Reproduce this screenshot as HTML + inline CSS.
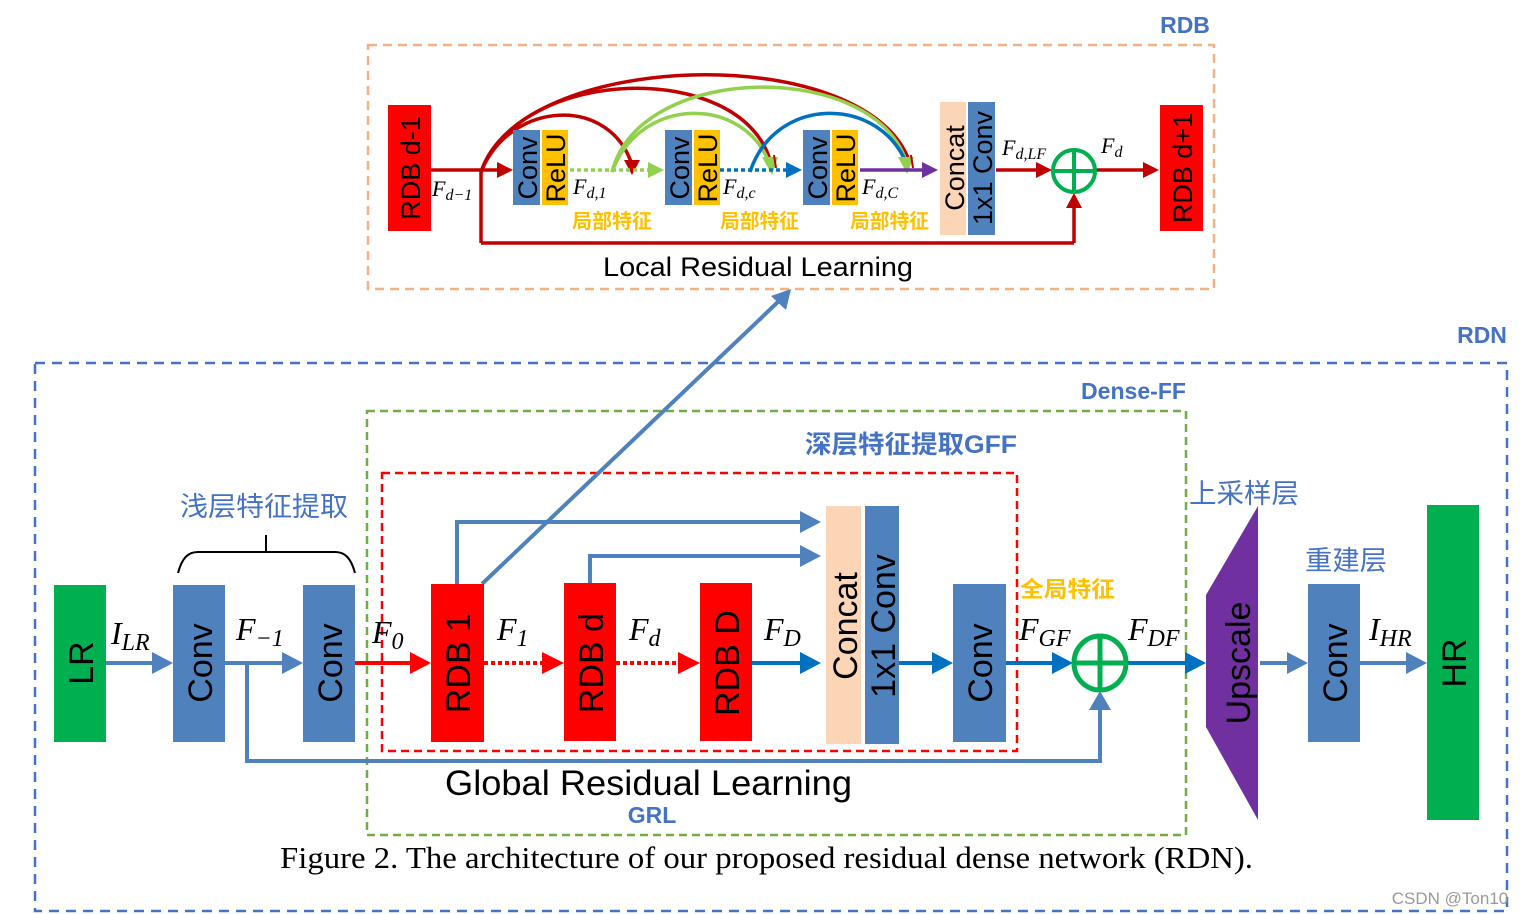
<!DOCTYPE html>
<html><head><meta charset="utf-8"><style>
html,body{margin:0;padding:0;background:#fff;}
svg{display:block;}
.s{font-family:"Liberation Sans","Noto Sans CJK SC",sans-serif;}
.it{font-family:"Liberation Serif",serif;font-style:italic;}
</style></head><body>
<svg width="1530" height="914" viewBox="0 0 1530 914" xmlns="http://www.w3.org/2000/svg">

<!-- RDB top box -->
<rect x="368" y="45" width="846" height="244" fill="none" stroke="#f4b183" stroke-width="2.5" stroke-dasharray="9,6"/>
<text x="1185" y="33" class="s" font-size="23" font-weight="bold" fill="#4472c4" text-anchor="middle">RDB</text>

<!-- arcs -->
<g fill="none" stroke-width="3.5">
<path d="M481,172 C520,50 860,40 908,158" stroke="#c00000"/>
<path d="M481,172 C520,65 740,60 770,160" stroke="#c00000"/>
<path d="M481,172 C510,100 610,95 632,165" stroke="#c00000"/>
<path d="M612,172 C640,60 880,60 907,165" stroke="#92d050"/>
<path d="M612,172 C640,95 745,95 770,165" stroke="#92d050"/>
<path d="M750,172 C775,95 880,95 907,165" stroke="#0070c0"/>
</g>
<polygon points="624,160 640,160 632,175" fill="#c00000"/>
<polygon points="762,157 778,157 772,175" fill="#92d050"/>
<polygon points="898,157 914,157 907,174" fill="#92d050"/>
<line x1="774" y1="155" x2="776" y2="168" stroke="#c00000" stroke-width="2"/>
<line x1="911" y1="155" x2="913" y2="168" stroke="#c00000" stroke-width="2"/>

<!-- main line -->
<line x1="431" y1="170" x2="500" y2="170" stroke="#c00000" stroke-width="3.5"/>
<polygon points="497,162 513,170 497,178" fill="#c00000"/>
<line x1="481" y1="170" x2="481" y2="243" stroke="#c00000" stroke-width="3.5"/>
<line x1="481" y1="243" x2="1074" y2="243" stroke="#c00000" stroke-width="3.5"/>
<line x1="1074" y1="243" x2="1074" y2="206" stroke="#c00000" stroke-width="3.5"/>
<polygon points="1066,208 1074,193 1082,208" fill="#c00000"/>
<line x1="570" y1="170" x2="650" y2="170" stroke="#92d050" stroke-width="3.5" stroke-dasharray="4,3"/>
<polygon points="648,162 664,170 648,178" fill="#92d050"/>
<line x1="720" y1="170" x2="788" y2="170" stroke="#0070c0" stroke-width="3.5" stroke-dasharray="4,3"/>
<polygon points="786,162 802,170 786,178" fill="#0070c0"/>
<line x1="860" y1="170" x2="925" y2="170" stroke="#7030a0" stroke-width="3.5"/>
<polygon points="922,162 938,170 922,178" fill="#7030a0"/>
<line x1="996" y1="170" x2="1040" y2="170" stroke="#c00000" stroke-width="3.5"/>
<polygon points="1036,162 1052,170 1036,178" fill="#c00000"/>
<line x1="1096" y1="170" x2="1145" y2="170" stroke="#c00000" stroke-width="3.5"/>
<polygon points="1143,162 1159,170 1143,178" fill="#c00000"/>
<circle cx="1074" cy="171" r="21" fill="#fff" stroke="#00b050" stroke-width="4"/>
<line x1="1053" y1="171" x2="1095" y2="171" stroke="#00b050" stroke-width="4"/>
<line x1="1074" y1="150" x2="1074" y2="192" stroke="#00b050" stroke-width="4"/>

<!-- RDB blocks -->
<rect x="388" y="105" width="43" height="126" fill="#ff0000"/>
<text transform="translate(420,168) rotate(-90)" class="s" font-size="27" text-anchor="middle">RDB d-1</text>
<rect x="1160" y="105" width="43" height="126" fill="#ff0000"/>
<text transform="translate(1192,168) rotate(-90)" class="s" font-size="27" text-anchor="middle">RDB d+1</text>

<g class="s" font-size="27">
<rect x="513" y="130" width="27" height="75" fill="#4f81bd"/><text transform="translate(537,168) rotate(-90)" text-anchor="middle">Conv</text>
<rect x="542" y="130" width="26" height="75" fill="#ffc000"/><text transform="translate(565,168) rotate(-90)" text-anchor="middle">ReLU</text>
<rect x="665" y="130" width="27" height="75" fill="#4f81bd"/><text transform="translate(689,168) rotate(-90)" text-anchor="middle">Conv</text>
<rect x="694" y="130" width="26" height="75" fill="#ffc000"/><text transform="translate(717,168) rotate(-90)" text-anchor="middle">ReLU</text>
<rect x="803" y="130" width="27" height="75" fill="#4f81bd"/><text transform="translate(827,168) rotate(-90)" text-anchor="middle">Conv</text>
<rect x="832" y="130" width="26" height="75" fill="#ffc000"/><text transform="translate(855,168) rotate(-90)" text-anchor="middle">ReLU</text>
<rect x="940" y="102" width="26" height="133" fill="#fbd5b5"/><text transform="translate(964,168) rotate(-90)" text-anchor="middle">Concat</text>
<rect x="968" y="102" width="27" height="133" fill="#4f81bd"/><text transform="translate(992,168) rotate(-90)" text-anchor="middle">1x1 Conv</text>
</g>

<g class="it" font-size="22">
<text x="432" y="196">F<tspan font-size="16" dy="4">d−1</tspan></text>
<text x="573" y="194">F<tspan font-size="16" dy="4">d,1</tspan></text>
<text x="723" y="194">F<tspan font-size="16" dy="4">d,c</tspan></text>
<text x="862" y="194">F<tspan font-size="16" dy="4">d,C</tspan></text>
<text x="1002" y="155">F<tspan font-size="16" dy="4">d,LF</tspan></text>
<text x="1101" y="153">F<tspan font-size="16" dy="4">d</tspan></text>
</g>
<g class="s" font-size="20" fill="#ffc000" font-weight="bold">
<text x="572" y="228" textLength="80" lengthAdjust="spacingAndGlyphs">局部特征</text>
<text x="720" y="228" textLength="79" lengthAdjust="spacingAndGlyphs">局部特征</text>
<text x="850" y="228" textLength="79" lengthAdjust="spacingAndGlyphs">局部特征</text>
</g>
<text x="603" y="276" class="s" font-size="27" textLength="310" lengthAdjust="spacingAndGlyphs">Local Residual Learning</text>

<!-- RDN -->
<rect x="35" y="363" width="1472" height="548" fill="none" stroke="#4472c4" stroke-width="2.5" stroke-dasharray="10,7"/>
<text x="1482" y="343" class="s" font-size="23" font-weight="bold" fill="#4472c4" text-anchor="middle">RDN</text>
<rect x="367" y="411" width="819" height="424" fill="none" stroke="#70ad47" stroke-width="2.5" stroke-dasharray="8,5"/>
<text x="1081" y="399" class="s" font-size="23" font-weight="bold" fill="#4472c4" textLength="105" lengthAdjust="spacingAndGlyphs">Dense-FF</text>
<rect x="382" y="473" width="635" height="278" fill="none" stroke="#ff0000" stroke-width="2.5" stroke-dasharray="8,5"/>
<text x="805" y="453" class="s" font-size="25" font-weight="bold" fill="#4472c4" textLength="212" lengthAdjust="spacingAndGlyphs">深层特征提取GFF</text>
<text x="180" y="516" class="s" font-size="27" fill="#4472c4" textLength="168" lengthAdjust="spacingAndGlyphs">浅层特征提取</text>
<path d="M178,573 C182,558 188,552 198,552 L335,552 C345,552 351,558 355,573" fill="none" stroke="#000" stroke-width="2"/>
<line x1="266" y1="535" x2="266" y2="552" stroke="#000" stroke-width="2"/>

<!-- connectors blue -->
<g stroke="#4f81bd" stroke-width="4" fill="none">
<line x1="106" y1="663" x2="158" y2="663"/>
<line x1="225" y1="663" x2="288" y2="663"/>
<polyline points="247,663 247,761 1100,761 1100,706"/>
<polyline points="457,584 457,522 806,522"/>
<polyline points="590,583 590,556 806,556"/>
<line x1="482" y1="584" x2="780" y2="300"/>
<line x1="1260" y1="663" x2="1292" y2="663"/>
<line x1="1360" y1="663" x2="1410" y2="663"/>
</g>
<g fill="#4f81bd">
<polygon points="152,652 173,663 152,674"/>
<polygon points="282,652 303,663 282,674"/>
<polygon points="800,511 821,522 800,533"/>
<polygon points="800,545 821,556 800,567"/>
<polygon points="1089,710 1100,691 1111,710"/>
<polygon points="1287,652 1308,663 1287,674"/>
<polygon points="1406,652 1427,663 1406,674"/>
<polygon points="771,296 791,289 786,310"/>
</g>
<g stroke="#0070c0" stroke-width="4">
<line x1="752" y1="663" x2="806" y2="663"/>
<line x1="899" y1="663" x2="938" y2="663"/>
<line x1="1006" y1="663" x2="1058" y2="663"/>
<line x1="1127" y1="663" x2="1190" y2="663"/>
</g>
<g fill="#0070c0">
<polygon points="800,652 821,663 800,674"/>
<polygon points="932,652 953,663 932,674"/>
<polygon points="1052,652 1073,663 1052,674"/>
<polygon points="1185,652 1206,663 1185,674"/>
</g>
<line x1="355" y1="663" x2="416" y2="663" stroke="#ff0000" stroke-width="4"/>
<polygon points="410,652 431,663 410,674" fill="#ff0000"/>
<line x1="484" y1="663" x2="548" y2="663" stroke="#ff0000" stroke-width="4" stroke-dasharray="4,3"/>
<polygon points="542,652 564,663 542,674" fill="#ff0000"/>
<line x1="616" y1="663" x2="684" y2="663" stroke="#ff0000" stroke-width="4" stroke-dasharray="4,3"/>
<polygon points="678,652 700,663 678,674" fill="#ff0000"/>

<!-- blocks -->
<g class="s" font-size="34">
<rect x="54" y="585" width="52" height="157" fill="#00b050"/><text transform="translate(93,663) rotate(-90)" text-anchor="middle">LR</text>
<rect x="173" y="585" width="52" height="157" fill="#4f81bd"/><text transform="translate(212,663) rotate(-90)" text-anchor="middle">Conv</text>
<rect x="303" y="585" width="52" height="157" fill="#4f81bd"/><text transform="translate(342,663) rotate(-90)" text-anchor="middle">Conv</text>
<rect x="431" y="584" width="53" height="158" fill="#ff0000"/><text transform="translate(470,663) rotate(-90)" text-anchor="middle">RDB 1</text>
<rect x="564" y="583" width="52" height="158" fill="#ff0000"/><text transform="translate(603,663) rotate(-90)" text-anchor="middle">RDB d</text>
<rect x="700" y="583" width="52" height="158" fill="#ff0000"/><text transform="translate(739,663) rotate(-90)" text-anchor="middle">RDB D</text>
<rect x="826" y="506" width="35" height="238" fill="#fbd5b5"/><text transform="translate(857,626) rotate(-90)" text-anchor="middle">Concat</text>
<rect x="865" y="506" width="34" height="238" fill="#4f81bd"/><text transform="translate(895,626) rotate(-90)" text-anchor="middle">1x1 Conv</text>
<rect x="953" y="584" width="53" height="158" fill="#4f81bd"/><text transform="translate(992,663) rotate(-90)" text-anchor="middle">Conv</text>
<polygon points="1258,506 1258,820 1206,727 1206,595" fill="#7030a0"/><text transform="translate(1250,663) rotate(-90)" text-anchor="middle">Upscale</text>
<rect x="1308" y="584" width="52" height="158" fill="#4f81bd"/><text transform="translate(1347,663) rotate(-90)" text-anchor="middle">Conv</text>
<rect x="1427" y="505" width="52" height="315" fill="#00b050"/><text transform="translate(1466,663) rotate(-90)" text-anchor="middle">HR</text>
</g>
<ellipse cx="1100" cy="663" rx="26" ry="27" fill="#fff" stroke="#00b050" stroke-width="5"/>
<line x1="1074" y1="663" x2="1126" y2="663" stroke="#00b050" stroke-width="5"/>
<line x1="1100" y1="636" x2="1100" y2="690" stroke="#00b050" stroke-width="5"/>

<g class="it" font-size="32">
<text x="111" y="644">I<tspan font-size="24" dy="6">LR</tspan></text>
<text x="236" y="640">F<tspan font-size="24" dy="6">−1</tspan></text>
<text x="372" y="643">F<tspan font-size="24" dy="6">0</tspan></text>
<text x="497" y="640">F<tspan font-size="24" dy="6">1</tspan></text>
<text x="629" y="640">F<tspan font-size="24" dy="6">d</tspan></text>
<text x="764" y="640">F<tspan font-size="24" dy="6">D</tspan></text>
<text x="1019" y="640">F<tspan font-size="24" dy="6">GF</tspan></text>
<text x="1128" y="640">F<tspan font-size="24" dy="6">DF</tspan></text>
<text x="1369" y="640">I<tspan font-size="24" dy="6">HR</tspan></text>
</g>
<text x="1020" y="597" class="s" font-size="22" fill="#ffc000" font-weight="bold" textLength="95" lengthAdjust="spacingAndGlyphs">全局特征</text>
<text x="1189" y="503" class="s" font-size="27" fill="#4472c4" textLength="110" lengthAdjust="spacingAndGlyphs">上采样层</text>
<text x="1305" y="570" class="s" font-size="27" fill="#4472c4" textLength="82" lengthAdjust="spacingAndGlyphs">重建层</text>
<text x="445" y="795" class="s" font-size="35" textLength="407" lengthAdjust="spacingAndGlyphs">Global Residual Learning</text>
<text x="652" y="823" class="s" font-size="23" font-weight="bold" fill="#4472c4" text-anchor="middle">GRL</text>
<text x="280" y="868" font-family="Liberation Serif,serif" font-size="31" textLength="973" lengthAdjust="spacingAndGlyphs">Figure 2. The architecture of our proposed residual dense network (RDN).</text>
<text x="1450" y="904" class="s" font-size="17" fill="#999" text-anchor="middle">CSDN @Ton10</text>
</svg>
</body></html>
